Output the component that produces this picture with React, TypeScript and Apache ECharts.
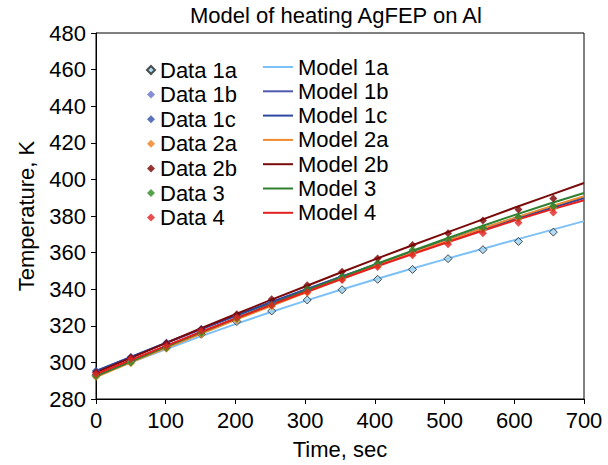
import React, { useEffect, useRef } from "react";
import * as echarts from "echarts";

const dataTimes = [0, 50, 101, 151, 202, 252, 303, 353, 404, 454, 505, 555, 606, 656];
const modelTimes = [0, 50, 100, 150, 200, 250, 300, 350, 400, 450, 500, 550, 600, 650, 700];

const data1a = [293, 300.5, 308, 315.4, 322.3, 328.1, 334.1, 339.7, 345.4, 350.8, 356.7, 361.6, 366.1, 371.2];
const data1b = [295, 302.8, 310.9, 318, 325.5, 332.5, 339.5, 346.5, 353.5, 360, 366.5, 372.5, 378.5, 384.5];
const data1c = [295.5, 303, 310.5, 318.3, 325.8, 333, 340, 347, 354, 360.5, 366.8, 373, 379, 385];
const data2a = [292, 299.5, 307.5, 315.3, 323, 330.5, 338, 345.5, 352.8, 359.5, 366, 372.5, 378.5, 384.3];
const data2b = [294.5, 302.7, 310.5, 318.1, 326.3, 334.5, 342.1, 349.6, 356.8, 364.1, 370.6, 377.5, 383.5, 389.5];
const data3 = [292.4, 300, 308, 316, 324, 331.5, 340, 346.8, 354, 361.4, 367.2, 373.4, 379.4, 385.3];
const data4 = [293.6, 301.8, 309, 317.2, 324.5, 331.2, 338.5, 345, 352.1, 358.5, 364.5, 370.6, 376.3, 381.9];

const model1a = [293, 300, 307.2, 314.2, 320.9, 327.4, 333.6, 339.6, 345.3, 350.9, 356.3, 361.6, 366.8, 372, 377.2];
const model1b = [295, 302.8, 310.5, 318, 325.4, 332.6, 339.6, 346.5, 353.3, 359.9, 366.3, 372.6, 378.7, 384.5, 390];
const model1c = [295.3, 303, 310.7, 318.2, 325.5, 332.7, 339.7, 346.5, 353.2, 359.7, 366, 372.2, 378.2, 384, 389.8];
const model2a = [292, 300, 307.8, 315.5, 323.2, 330.7, 338, 345.3, 352.4, 359.3, 366, 372.6, 379, 385, 390.8];
const model2b = [294.5, 302.5, 310.5, 318.5, 326.3, 334, 341.5, 349, 356.3, 363.5, 370.5, 377.5, 384.5, 391.3, 398];
const model3 = [292.5, 300.5, 308.5, 316.3, 324, 331.5, 339, 346.3, 353.5, 360.5, 367.3, 374, 380.5, 386.7, 392.6];
const model4 = [293.5, 301.3, 309, 316.6, 324, 331.2, 338.3, 345.3, 352.1, 358.7, 365.1, 371.4, 377.5, 383.2, 388.6];

const dataNames = ["Data 1a", "Data 1b", "Data 1c", "Data 2a", "Data 2b", "Data 3", "Data 4"];
const modelNames = ["Model 1a", "Model 1b", "Model 1c", "Model 2a", "Model 2b", "Model 3", "Model 4"];
const dataValues = [data1a, data1b, data1c, data2a, data2b, data3, data4];
const modelValues = [model1a, model1b, model1c, model2a, model2b, model3, model4];
const dataColors = ["#9fd3f0", "#6670c8", "#2f4fa8", "#f07d1a", "#7a0000", "#2e8b22", "#e52020"];
const modelColors = ["#7cc0f8", "#5058b0", "#2c48a0", "#f08a30", "#7a0a0a", "#2e8030", "#e52020"];

const FONT = "'Liberation Sans', Arial, sans-serif";

export default function App() {
  const ref = useRef<HTMLDivElement>(null);
  useEffect(() => {
    if (!ref.current) return;
    const chart = echarts.init(ref.current, null, { renderer: "svg" });
    const zip = (xs: number[], ys: number[]) => ys.map((y, i) => [xs[i], y]);
    const modelSeries = modelNames.map((n, i) => ({
      name: n,
      type: "line",
      data: zip(modelTimes, modelValues[i]),
      symbol: "none",
      smooth: false,
      lineStyle: { color: modelColors[i], width: 2 },
      itemStyle: { color: modelColors[i] },
      z: 2,
    }));
    const dataSeries = dataNames.map((n, i) => ({
      name: n,
      type: "scatter",
      data: zip(dataTimes, dataValues[i]),
      symbol: "diamond",
      symbolSize: 8,
      itemStyle:
        i === 0
          ? { color: dataColors[i], borderColor: "#222", borderWidth: 1 }
          : { color: dataColors[i] },
      z: 3,
    }));
    const option: any = {
      animation: false,
      backgroundColor: "#fff",
      textStyle: { fontFamily: FONT, color: "#000" },
      title: {
        text: "Model of heating AgFEP on Al",
        left: 190,
        top: 4,
        padding: 0,
        textStyle: { fontFamily: FONT, fontSize: 22, fontWeight: "normal", color: "#000" },
      },
      legend: [
        {
          data: dataNames.map((n) => ({ name: n, icon: "diamond" })),
          orient: "vertical",
          left: 146,
          top: 59,
          padding: 0,
          itemWidth: 8,
          itemHeight: 8,
          itemGap: 2.6,
          itemTextGap: 12,
          textStyle: { fontFamily: FONT, fontSize: 22, color: "#000", lineHeight: 22 },
          selectedMode: false,
        },
        {
          data: modelNames.map((n) => ({ name: n, icon: "rect" })),
          orient: "vertical",
          left: 263,
          top: 56,
          padding: 0,
          itemWidth: 30,
          itemHeight: 2,
          itemGap: 2.3,
          itemTextGap: 11,
          textStyle: { fontFamily: FONT, fontSize: 22, color: "#000", lineHeight: 22 },
          selectedMode: false,
        },
      ],
      grid: {
        left: 96,
        right: 24,
        top: 33,
        bottom: 64,
        show: true,
        borderColor: "#000",
        borderWidth: 1,
        backgroundColor: "transparent",
      },
      xAxis: {
        type: "value",
        min: 0,
        max: 700,
        interval: 100,
        name: "Time, sec",
        nameLocation: "middle",
        nameGap: 39,
        nameTextStyle: { fontFamily: FONT, fontSize: 22, color: "#000" },
        axisLine: { show: true, lineStyle: { color: "#000", width: 1 } },
        axisTick: { show: true, length: 5, inside: false, lineStyle: { color: "#000" } },
        axisLabel: { fontFamily: FONT, fontSize: 22, color: "#000", margin: 10 },
        splitLine: { show: false },
      },
      yAxis: {
        type: "value",
        min: 280,
        max: 480,
        interval: 20,
        name: "Temperature, K",
        nameLocation: "middle",
        nameGap: 59,
        nameTextStyle: { fontFamily: FONT, fontSize: 22, color: "#000" },
        axisLine: { show: true, lineStyle: { color: "#000", width: 1 } },
        axisTick: { show: true, length: 5, inside: false, lineStyle: { color: "#000" } },
        axisLabel: { fontFamily: FONT, fontSize: 22, color: "#000", margin: 10 },
        splitLine: { show: false },
      },
      series: [...modelSeries, ...dataSeries],
    };
    chart.setOption(option);
    return () => chart.dispose();
  }, []);
  return <div ref={ref} style={{ width: 608, height: 465, position: "absolute", left: 0, top: 0 }} />;
}
